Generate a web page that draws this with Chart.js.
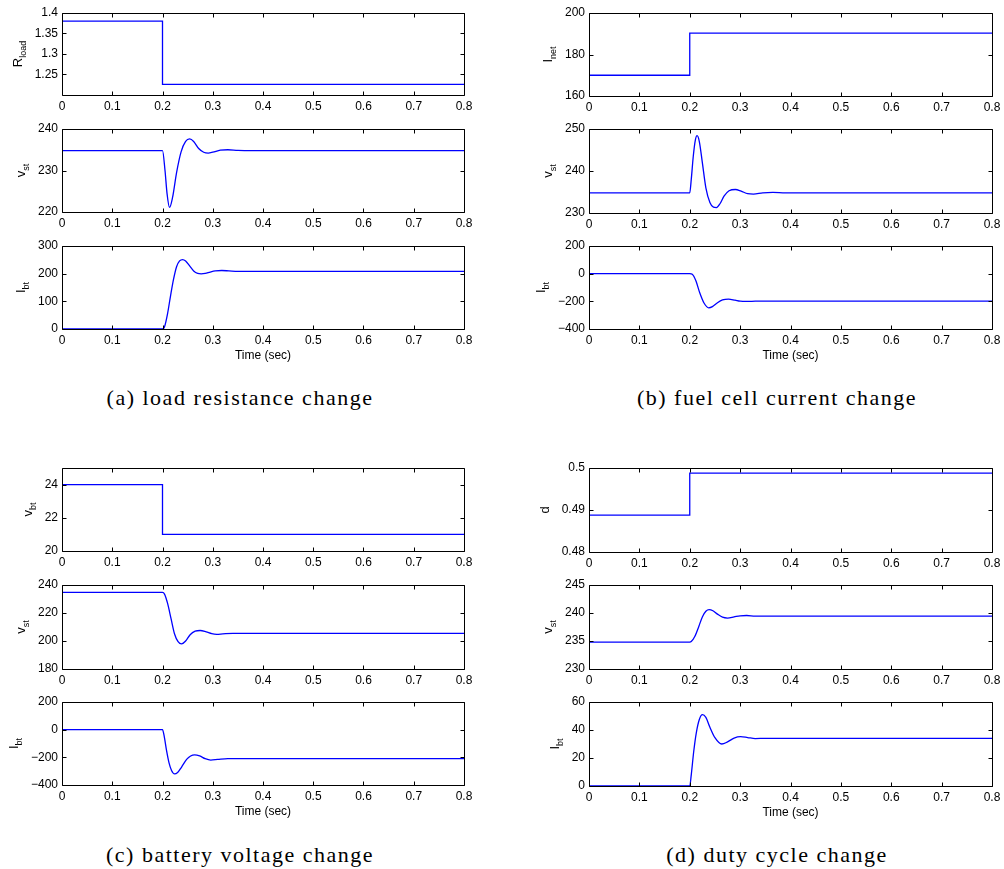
<!DOCTYPE html>
<html>
<head>
<meta charset="utf-8">
<title>Transient responses</title>
<script src="https://cdn.jsdelivr.net/npm/chart.js@4.4.0/dist/chart.umd.min.js"></script>
<style>
  html, body { margin: 0; padding: 0; background: #fff; }
  #page { position: relative; width: 1004px; height: 869px; overflow: hidden; }
  #page canvas { position: absolute; }
  .caption {
    position: absolute;
    font-family: 'Liberation Serif', 'Times New Roman', serif;
    font-size: 22px;
    line-height: 22px;
    letter-spacing: 1.5px;
    word-spacing: 0px;
    color: #000;
    white-space: nowrap;
    transform: translateX(-50%);
  }
</style>
</head>
<body>
<div id="page"></div>
<script>
/* ─── Data (time in seconds) ─────────────────────────────────────────── */
const timeTicks = [0, 0.1, 0.2, 0.3, 0.4, 0.5, 0.6, 0.7, 0.8];

// (a) load resistance step
const loadRes = [[0, 1.38], [0.2, 1.38], [0.2, 1.226], [0.8, 1.226]];
const loadVst = [
  [0, 234.8], [0.2, 234.8], [0.205, 230], [0.209, 224.5], [0.214, 221.1], [0.22, 223.5],
  [0.228, 229.5], [0.237, 234.5], [0.246, 237], [0.254, 237.6], [0.262, 237], [0.272, 235.3],
  [0.282, 234.4], [0.291, 234.2], [0.3, 234.4], [0.315, 234.9], [0.33, 235.0], [0.35, 234.85],
  [0.38, 234.8], [0.8, 234.8]
];
const loadIbt = [
  [0, 0], [0.2, 0], [0.204, 8], [0.21, 55], [0.216, 120], [0.222, 180], [0.228, 225],
  [0.234, 246], [0.24, 251], [0.246, 246], [0.254, 228], [0.262, 210], [0.27, 201],
  [0.277, 199.5], [0.285, 201], [0.295, 206], [0.305, 210], [0.318, 211.5], [0.332, 210],
  [0.35, 208], [0.8, 208]
];

// (b) fuel cell current step
const fcInet = [[0, 170], [0.2, 170], [0.2, 190.3], [0.8, 190.3]];
const fcVst = [
  [0, 234.8], [0.2, 234.8], [0.203, 238], [0.207, 243.5], [0.211, 247.3], [0.2146, 248.4],
  [0.219, 247], [0.225, 242], [0.232, 236], [0.24, 232.5], [0.247, 231.4], [0.253, 231.3],
  [0.26, 232.2], [0.268, 234], [0.278, 235.3], [0.2907, 235.6], [0.302, 235.2], [0.315, 234.6],
  [0.3265, 234.5], [0.345, 234.8], [0.365, 234.9], [0.39, 234.8], [0.8, 234.8]
];
const fcIbt = [
  [0, 0], [0.2, 0], [0.205, -5], [0.212, -50], [0.22, -140], [0.228, -210], [0.2377, -247],
  [0.245, -238], [0.255, -210], [0.265, -190], [0.277, -184], [0.29, -192], [0.3, -199],
  [0.313, -201], [0.33, -199], [0.35, -198], [0.8, -198]
];

// (c) battery voltage step
const batVbt = [[0, 24], [0.2, 24], [0.2, 21], [0.8, 21]];
const batVst = [
  [0, 234.7], [0.2, 234.7], [0.204, 233.5], [0.21, 227], [0.217, 216], [0.224, 205],
  [0.231, 199.5], [0.238, 197.9], [0.246, 200], [0.255, 204.5], [0.265, 207], [0.275, 207.5],
  [0.287, 206.5], [0.298, 205.2], [0.308, 204.8], [0.32, 205.1], [0.34, 205.5], [0.8, 205.5]
];
const batIbt = [
  [0, 0], [0.2, 0], [0.203, -40], [0.208, -150], [0.213, -240], [0.218, -295], [0.224, -320],
  [0.23, -310], [0.238, -270], [0.248, -215], [0.256, -190], [0.264, -182], [0.274, -190],
  [0.285, -210], [0.296, -220], [0.31, -215], [0.33, -209], [0.35, -210], [0.8, -210]
];

// (d) duty cycle step
const dutyD = [[0, 0.4888], [0.2, 0.4888], [0.2, 0.4988], [0.8, 0.4988]];
const dutyVst = [
  [0, 234.8], [0.2, 234.8], [0.203, 234.9], [0.21, 235.8], [0.218, 237.6], [0.225, 239.3],
  [0.232, 240.3], [0.2384, 240.6], [0.246, 240.4], [0.255, 239.8], [0.265, 239.25],
  [0.275, 239.1], [0.288, 239.3], [0.3, 239.5], [0.313, 239.55], [0.33, 239.45], [0.8, 239.45]
];
const dutyIbt = [
  [0, 0], [0.2, 0], [0.203, 8], [0.208, 25], [0.213, 38], [0.219, 47.5], [0.2252, 51],
  [0.232, 49], [0.24, 42], [0.25, 34.5], [0.2636, 30], [0.275, 31.5], [0.288, 34.2],
  [0.301, 35.2], [0.315, 34.6], [0.33, 33.9], [0.35, 34], [0.8, 34]
];

// y tick labels
const rloadTicks  = [1.25, 1.3, 1.35, 1.4];
const vstTicksA   = [220, 230, 240];
const ibtTicksA   = [0, 100, 200, 300];
const inetTicks   = [160, 180, 200];
const vstTicksB   = [230, 240, 250];
const ibtTicksB   = [-400, -200, 0, 200];
const vbtTicks    = [20, 22, 24];
const vstTicksC   = [180, 200, 220, 240];
const ibtTicksC   = [-400, -200, 0, 200];
const dTicks      = [0.48, 0.49, 0.5];
const vstTicksD   = [230, 235, 240, 245];
const ibtTicksD   = [0, 20, 40, 60];

const captions = [
  { text: '(a) load resistance change', x: 240, y: 387 },
  { text: '(b) fuel cell current change', x: 777, y: 387 },
  { text: '(c) battery voltage change', x: 240, y: 844 },
  { text: '(d) duty cycle change', x: 777, y: 844 }
];

/* ─── Sub-plot layout: box = [left, top, width, height] ──────────────── */
const subplots = [
  { data: loadRes, ticks: rloadTicks, min: 1.2,  max: 1.4, sym: 'R', sub: 'load', step: true, box: [62, 13, 402, 82] },
  { data: loadVst, ticks: vstTicksA,  min: 220,  max: 240, sym: 'v', sub: 'st', box: [62, 129, 402, 83] },
  { data: loadIbt, ticks: ibtTicksA,  min: 0,    max: 300, sym: 'I', sub: 'bt', box: [62, 246, 402, 83], time: true },
  { data: fcInet,  ticks: inetTicks,  min: 160,  max: 200, sym: 'I', sub: 'net', step: true, box: [589, 13, 403, 83] },
  { data: fcVst,   ticks: vstTicksB,  min: 230,  max: 250, sym: 'v', sub: 'st', box: [589, 129, 403, 84] },
  { data: fcIbt,   ticks: ibtTicksB,  min: -400, max: 200, sym: 'I', sub: 'bt', box: [589, 246, 403, 83], time: true },
  { data: batVbt,  ticks: vbtTicks,   min: 20,   max: 25,  sym: 'v', sub: 'bt', step: true, box: [62, 468, 402, 83] },
  { data: batVst,  ticks: vstTicksC,  min: 180,  max: 240, sym: 'v', sub: 'st', box: [62, 585, 402, 84] },
  { data: batIbt,  ticks: ibtTicksC,  min: -400, max: 200, sym: 'I', sub: 'bt', box: [62, 702, 402, 83], time: true },
  { data: dutyD,   ticks: dTicks,     min: 0.48, max: 0.5, sym: 'd', sub: '',   step: true, box: [589, 468, 403, 84] },
  { data: dutyVst, ticks: vstTicksD,  min: 230,  max: 245, sym: 'v', sub: 'st', box: [589, 585, 403, 84] },
  { data: dutyIbt, ticks: ibtTicksD,  min: 0,    max: 60,  sym: 'I', sub: 'bt', box: [589, 702, 403, 84], time: true }
];

const PAD_L = 62, PAD_T = 6, PAD_R = 14, PAD_B = 38;
const FONT = '"Liberation Sans", Arial, sans-serif';
const LINE = '#0000ff';

Chart.defaults.font.family = FONT;
Chart.defaults.font.size = 12;
Chart.defaults.color = '#000';

function fmt(v) {
  return String(Math.round(v * 10000) / 10000).replace('-', '\u2212');
}

/* ─── Axes box, inward ticks and labels in the MATLAB style ──────────── */
const matlabAxes = {
  id: 'matlabAxes',
  afterDraw(chart, args, opts) {
    const { ctx, chartArea: a, scales } = chart;
    const L = a.left + 0.5, R = a.right + 0.5, T = a.top + 0.5, B = a.bottom + 0.5;
    ctx.save();
    ctx.strokeStyle = '#000';
    ctx.lineWidth = 1;
    ctx.beginPath();
    ctx.rect(L, T, R - L, B - T);
    timeTicks.forEach(v => {
      const x = Math.round(scales.x.getPixelForValue(v)) + 0.5;
      ctx.moveTo(x, B); ctx.lineTo(x, B - 4);
      ctx.moveTo(x, T); ctx.lineTo(x, T + 4);
    });
    opts.ticks.forEach(v => {
      const y = Math.round(scales.y.getPixelForValue(v)) + 0.5;
      ctx.moveTo(L, y); ctx.lineTo(L + 4, y);
      ctx.moveTo(R, y); ctx.lineTo(R - 4, y);
    });
    ctx.stroke();

    // y label with subscript, rotated
    ctx.font = '12px ' + FONT;
    const maxW = Math.max(...opts.ticks.map(v => ctx.measureText(fmt(v)).width));
    const xc = a.left - 4 - maxW - 17;
    const yc = (a.top + a.bottom) / 2;
    ctx.translate(xc, yc);
    ctx.rotate(-Math.PI / 2);
    ctx.fillStyle = '#000';
    ctx.textBaseline = 'alphabetic';
    ctx.textAlign = 'left';
    ctx.font = '13px ' + FONT;
    const w1 = ctx.measureText(opts.sym).width;
    ctx.font = '9px ' + FONT;
    const w2 = opts.sub ? ctx.measureText(opts.sub).width : 0;
    const x0 = -(w1 + w2) / 2;
    ctx.font = '13px ' + FONT;
    ctx.fillText(opts.sym, x0, 4.5);
    if (opts.sub) {
      ctx.font = '9px ' + FONT;
      ctx.fillText(opts.sub, x0 + w1, 8);
    }
    ctx.restore();

    if (opts.time) {
      ctx.save();
      ctx.font = '12px ' + FONT;
      ctx.fillStyle = '#000';
      ctx.textAlign = 'center';
      ctx.textBaseline = 'middle';
      ctx.fillText('Time (sec)', (a.left + a.right) / 2, a.bottom + 27);
      ctx.restore();
    }
  }
};

function buildPlot(sp) {
  const [left, top, w, h] = sp.box;
  const canvas = document.createElement('canvas');
  canvas.width = w + PAD_L + PAD_R;
  canvas.height = h + PAD_T + PAD_B;
  canvas.style.left = (left - PAD_L) + 'px';
  canvas.style.top = (top - PAD_T) + 'px';
  canvas.style.width = canvas.width + 'px';
  canvas.style.height = canvas.height + 'px';
  document.getElementById('page').appendChild(canvas);

  return new Chart(canvas, {
    type: 'line',
    data: {
      datasets: [{
        data: sp.data.map(p => ({ x: p[0], y: p[1] })),
        borderColor: LINE,
        borderWidth: 1.3,
        pointRadius: 0,
        fill: false,
        tension: 0,
        cubicInterpolationMode: sp.step ? 'default' : 'monotone'
      }]
    },
    options: {
      responsive: false,
      animation: false,
      devicePixelRatio: 1,
      events: [],
      layout: { padding: { top: PAD_T, right: PAD_R, left: 0, bottom: 0 } },
      plugins: {
        legend: { display: false },
        tooltip: { enabled: false },
        matlabAxes: { ticks: sp.ticks, sym: sp.sym, sub: sp.sub, time: !!sp.time }
      },
      scales: {
        x: {
          type: 'linear',
          min: 0,
          max: 0.8,
          grid: { display: false, drawTicks: false },
          border: { display: false },
          ticks: { padding: 4, maxRotation: 0, autoSkip: false, callback: fmt },
          afterBuildTicks: s => { s.ticks = timeTicks.map(v => ({ value: v })); },
          afterFit: s => { s.height = PAD_B; s.paddingLeft = 0; s.paddingRight = 0; }
        },
        y: {
          type: 'linear',
          min: sp.min,
          max: sp.max,
          grid: { display: false, drawTicks: false },
          border: { display: false },
          ticks: { padding: 4, autoSkip: false, callback: fmt },
          afterBuildTicks: s => { s.ticks = sp.ticks.map(v => ({ value: v })); },
          afterFit: s => { s.width = PAD_L; s.paddingTop = 0; s.paddingBottom = 0; }
        }
      }
    },
    plugins: [matlabAxes]
  });
}

subplots.forEach(buildPlot);

captions.forEach(c => {
  const div = document.createElement('div');
  div.className = 'caption';
  div.textContent = c.text;
  div.style.left = c.x + 'px';
  div.style.top = c.y + 'px';
  document.getElementById('page').appendChild(div);
});
</script>
</body>
</html>
